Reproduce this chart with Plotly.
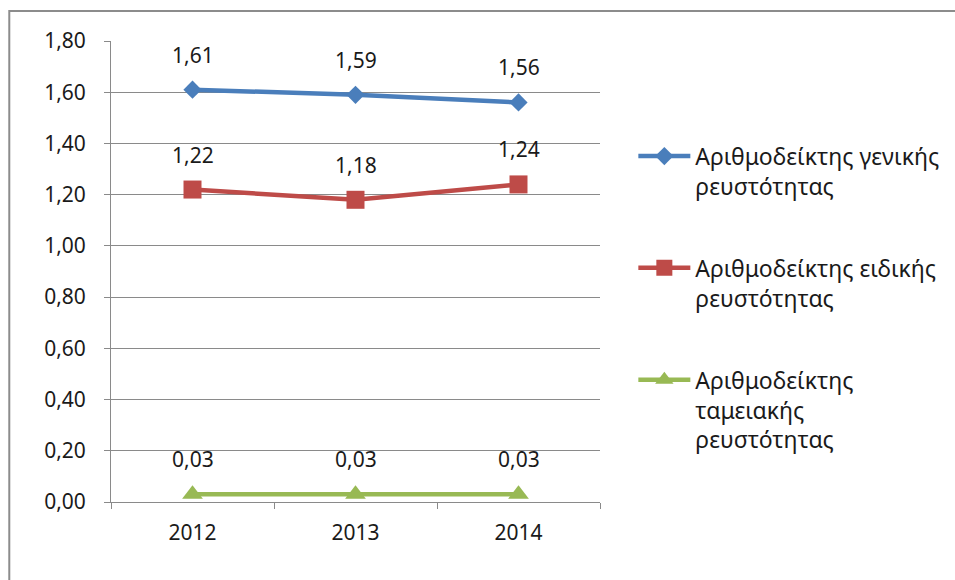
import plotly.graph_objects as go

# Liquidity ratios per year
years = ["2012", "2013", "2014"]
general_liquidity = [1.61, 1.59, 1.56]
quick_liquidity = [1.22, 1.18, 1.24]
cash_liquidity = [0.03, 0.03, 0.03]

series_names = [
    "Αριθμοδείκτης γενικής<br>ρευστότητας",
    "Αριθμοδείκτης ειδικής<br>ρευστότητας",
    "Αριθμοδείκτης<br>ταμειακής<br>ρευστότητας",
]
series_values = [general_liquidity, quick_liquidity, cash_liquidity]
series_colors = ["#4A7EBB", "#BE4B48", "#98B954"]
series_symbols = ["diamond", "square", "triangle-up"]
series_sizes = [14, 18, 18]

y_ticks = [0.0, 0.2, 0.4, 0.6, 0.8, 1.0, 1.2, 1.4, 1.6, 1.8]

FONT = "Noto Sans, Open Sans, sans-serif"
TEXT = "#1a1a1a"
GRID = "#8a8a8a"

fig = go.Figure()

for i, (name, vals) in enumerate(zip(series_names, series_values)):
    fig.add_trace(go.Scatter(
        x=years, y=vals, name=name, mode="lines+markers",
        legendgroup=f"g{i}",
        line=dict(color=series_colors[i], width=4.5),
        marker=dict(symbol=series_symbols[i], size=series_sizes[i],
                    color=series_colors[i]),
    ))
    # value labels above each point (category index used as x position)
    for j, v in enumerate(vals):
        fig.add_annotation(
            x=j, y=v, xref="x", yref="y",
            text=f"{v:.2f}".replace(".", ","),
            showarrow=False, yshift=35,
            font=dict(family=FONT, size=21, color=TEXT),
        )

# outer chart frame
fig.add_shape(type="rect", xref="paper", yref="paper",
              x0=-0.208, x1=1.75, y0=-0.2, y1=1.065,
              line=dict(color="#8c8c8c", width=2), layer="below")

fig.update_layout(
    width=955, height=580,
    margin=dict(l=111, r=354, t=41, b=78),
    paper_bgcolor="white", plot_bgcolor="white",
    separators=",.",
    font=dict(family=FONT, size=21, color=TEXT),
    legend=dict(x=1.066, y=0.797, xanchor="left", yanchor="top",
                valign="top", tracegroupgap=49, itemwidth=52,
                font=dict(family=FONT, size=23, color=TEXT)),
    xaxis=dict(
        type="category", range=[-0.5, 2.5],
        showline=True, linecolor=GRID, linewidth=1,
        ticks="outside", ticklen=6, tickcolor=GRID, tickson="boundaries",
        showgrid=False, tickfont=dict(size=21),
        ticklabelstandoff=12,
    ),
    yaxis=dict(
        range=[0, 1.8], tickvals=y_ticks, tickformat=".2f",
        showline=True, linecolor=GRID, linewidth=1,
        ticks="outside", ticklen=6, tickcolor=GRID,
        showgrid=True, gridcolor=GRID, gridwidth=1,
        zeroline=False, tickfont=dict(size=21),
        ticklabelstandoff=14,
    ),
)

fig.write_html("out.html")
